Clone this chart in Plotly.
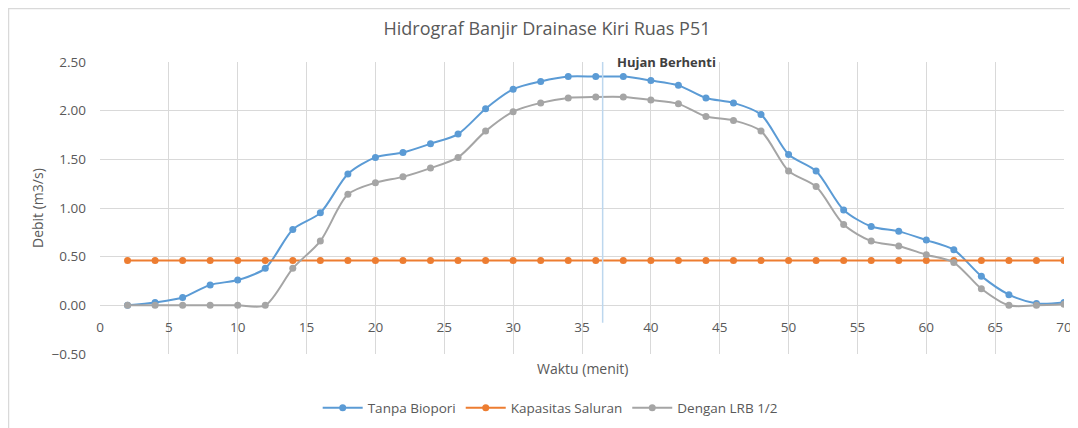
import plotly.graph_objects as go

waktu = [2, 4, 6, 8, 10, 12, 14, 16, 18, 20, 22, 24, 26, 28, 30, 32, 34, 36,
         38, 40, 42, 44, 46, 48, 50, 52, 54, 56, 58, 60, 62, 64, 66, 68, 70]
tanpa_biopori = [0.00, 0.03, 0.08, 0.21, 0.26, 0.38, 0.78, 0.95, 1.35, 1.52,
                 1.57, 1.66, 1.76, 2.02, 2.22, 2.30, 2.35, 2.35, 2.35, 2.31,
                 2.26, 2.13, 2.08, 1.96, 1.55, 1.38, 0.98, 0.81, 0.76, 0.67,
                 0.57, 0.30, 0.11, 0.02, 0.03]
kapasitas_saluran = [0.46] * len(waktu)
dengan_lrb = [0.00, 0.00, 0.00, 0.00, 0.00, 0.00, 0.38, 0.66, 1.14, 1.26,
              1.32, 1.41, 1.52, 1.79, 1.99, 2.08, 2.13, 2.14, 2.14, 2.11,
              2.07, 1.94, 1.90, 1.79, 1.38, 1.22, 0.83, 0.66, 0.61, 0.52,
              0.44, 0.17, 0.00, 0.00, 0.01]
hujan_berhenti = 36.5

x_ticks = list(range(0, 71, 5))
y_ticks = [-0.5, 0.0, 0.5, 1.0, 1.5, 2.0, 2.5]

FONT = "Open Sans"
GRAY_TXT = "#595959"
GRID = "#d9d9d9"

W, H = 1070, 420
ML, MR, MT, MB = 92, 14, 54, 74
PW, PH = W - ML - MR, H - MT - MB

fig = go.Figure()

series = [
    ("Tanpa Biopori", tanpa_biopori, "#5b9bd5", "spline"),
    ("Kapasitas Saluran", kapasitas_saluran, "#ed7d31", "linear"),
    ("Dengan LRB 1/2", dengan_lrb, "#a5a5a5", "spline"),
]
for name, vals, col, shape in series:
    fig.add_trace(go.Scatter(
        x=waktu, y=vals, name=name, mode="lines+markers",
        line=dict(color=col, width=2, shape=shape, smoothing=0.8),
        marker=dict(color=col, size=7, symbol="circle"),
    ))

# rain-stop vertical line
fig.add_shape(type="line", xref="x", yref="y",
              x0=hujan_berhenti, x1=hujan_berhenti, y0=-0.18, y1=2.54,
              line=dict(color="#bdd7ee", width=1.5))
fig.add_annotation(x=hujan_berhenti + 0.9, y=2.5, xref="x", yref="y",
                   text="<b>Hujan Berhenti</b>", showarrow=False,
                   xanchor="left", yanchor="middle",
                   font=dict(family=FONT, size=13, color="#404040"))

# outer chart border
fig.add_shape(type="rect", xref="paper", yref="paper",
              x0=(0.5 - ML) / PW, x1=1.1, y0=-0.6, y1=(H - 0.5 - MB) / PH,
              line=dict(color=GRID, width=1.5), layer="below")

# axis titles
fig.add_annotation(x=(29 - ML) / PW, y=0.5, xref="paper", yref="paper",
                   text="Debit (m3/s)", textangle=-90, showarrow=False,
                   xanchor="center", yanchor="middle",
                   font=dict(family=FONT, size=14, color=GRAY_TXT))
fig.add_annotation(x=0.5, y=-0.048, xref="paper", yref="paper",
                   text="Waktu (menit)", showarrow=False,
                   xanchor="center", yanchor="middle",
                   font=dict(family=FONT, size=14, color=GRAY_TXT))

fig.update_layout(
    width=W, height=H,
    margin=dict(l=ML, r=MR, t=MT, b=MB, autoexpand=False),
    paper_bgcolor="white", plot_bgcolor="white",
    title=dict(text="Hidrograf Banjir Drainase Kiri Ruas P51",
               x=539 / W, xanchor="center", y=1 - 21 / H, yanchor="middle",
               font=dict(family=FONT, size=18, color=GRAY_TXT)),
    font=dict(family=FONT, size=13, color=GRAY_TXT),
    showlegend=True,
    legend=dict(orientation="h", x=0.467, xanchor="center", y=-0.185,
                yanchor="middle", font=dict(family=FONT, size=13.5, color=GRAY_TXT),
                itemwidth=40),
    xaxis=dict(range=[0, 70], tickvals=x_ticks, showgrid=True, gridcolor=GRID,
               gridwidth=1, zeroline=False, showline=False, ticks="",
               anchor="free", position=0.5 / 3, automargin=False,
               ticklabelstandoff=12,
               tickfont=dict(family=FONT, size=13.5, color=GRAY_TXT)),
    yaxis=dict(range=[-0.5, 2.5], tickvals=y_ticks, tickformat=".2f",
               showgrid=True, gridcolor=GRID, gridwidth=1, zeroline=True,
               zerolinecolor=GRID, zerolinewidth=1, showline=False, ticks="",
               automargin=False, ticklabelstandoff=13,
               tickfont=dict(family=FONT, size=13.5, color=GRAY_TXT)),
)

fig.write_html("out.html")
